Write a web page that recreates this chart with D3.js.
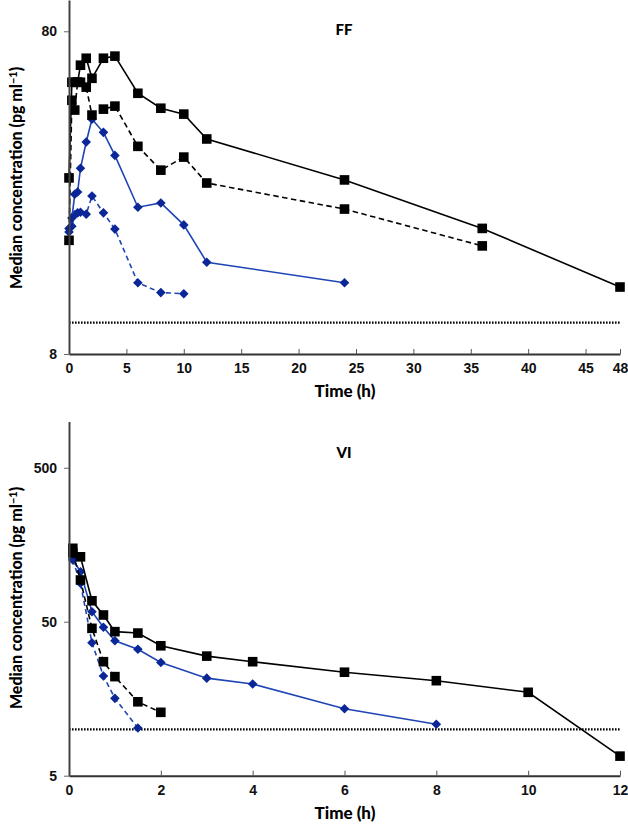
<!DOCTYPE html>
<html><head><meta charset="utf-8">
<script src="https://cdn.jsdelivr.net/npm/d3@7"></script>
<style>
body{margin:0;background:#fff;}
svg{display:block;font-family:Lato,"Open Sans",sans-serif;}
.tick text{font-weight:900;font-size:14px;fill:#111;}
</style></head><body>
<svg id="chart" width="628" height="824"></svg>
<script>
// ---------- FF panel data ----------
const ffTime = [0, 0.25, 0.5, 0.75, 1, 1.5, 2, 3, 4, 6, 8, 10, 12, 24, 36, 48];
const ffBlackSolid = [28.1, 55.6, 55.6, 55.6, 62.8, 66.0, 57.2, 66.0, 67.0, 51.4, 46.2, 44.3, 37.1, 27.7, 19.6, 12.9];
const ffBlackDashed = [18.0, 48.9, 45.6, 55.6, 55.6, 53.7, 44.0, 45.9, 46.9, 35.2, 29.7, 32.6, 27.1, 22.5, 17.3];
const ffBlueSolid = [19.6, 21.1, 25.0, 25.4, 30.1, 36.3, 42.7, 38.9, 33.0, 22.8, 23.5, 20.1, 15.4, 13.3];
const ffBlueDashed = [19.1, 19.9, 21.6, 21.9, 22.0, 21.7, 24.7, 21.9, 19.5, 13.3, 12.4, 12.3];
const ffXTicks = [0, 5, 10, 15, 20, 25, 30, 35, 40, 45, 48];
const ffYTicks = [8, 80];

// ---------- VI panel data ----------
const viTime = [0.083, 0.25, 0.5, 0.75, 1, 1.5, 2, 3, 4, 6, 8, 10, 12];
const viBlackSolid = [149.9, 132, 68.4, 55.3, 43.1, 42.2, 34.9, 29.9, 27.5, 23.5, 20.7, 17.4, 6.7];
const viBlackDashed = [140, 93.3, 45.3, 27.5, 22.0, 15.1, 12.9];
const viBlueSolid = [127.7, 105.6, 58.1, 46.0, 37.6, 33.1, 27.2, 21.5, 19.7, 13.6, 10.8];
const viBlueDashed = [126, 88.8, 36.5, 22.2, 15.9, 10.2];
const viXTicks = [0, 2, 4, 6, 8, 10, 12];
const viYTicks = [5, 50, 500];

const lloq = 10;

const svg = d3.select("#chart");
const BLACK = "#000";
const BLUE_LINE = "#1f45b5";
const BLUE_MARK = "#0b2797";

function panel(opt) {
  const x = d3.scaleLinear().domain(opt.xDomain).range([69, 620]);
  const y = d3.scaleLog().domain(opt.yDomain).range([opt.bottom, opt.top]);
  const g = svg.append("g");

  // LLOQ dotted line
  g.append("line")
    .attr("x1", x(opt.xDomain[0])).attr("x2", x(opt.xDomain[1]))
    .attr("y1", y(lloq)).attr("y2", y(lloq))
    .attr("stroke", "#000").attr("stroke-width", 2.2)
    .attr("stroke-dasharray", "1.6,1.4");

  const series = [
    {t: opt.time, v: opt.blueDashed, line: BLUE_LINE, mark: BLUE_MARK, dash: "5,3.5", shape: "diamond"},
    {t: opt.time, v: opt.blueSolid, line: BLUE_LINE, mark: BLUE_MARK, dash: null, shape: "diamond"},
    {t: opt.time, v: opt.blackDashed, line: BLACK, mark: BLACK, dash: "5.5,3.5", shape: "square"},
    {t: opt.time, v: opt.blackSolid, line: BLACK, mark: BLACK, dash: null, shape: "square"}
  ];
  series.forEach(s => {
    const pts = s.v.map((v, i) => [s.t[i], v]);
    g.append("path").datum(pts)
      .attr("fill", "none").attr("stroke", s.line)
      .attr("stroke-width", 1.6)
      .attr("stroke-dasharray", s.dash)
      .attr("d", d3.line().x(d => x(d[0])).y(d => y(d[1])));
    if (s.shape === "square") {
      g.selectAll(null).data(pts).enter().append("rect")
        .attr("x", d => x(d[0]) - 4.8).attr("y", d => y(d[1]) - 4.8)
        .attr("width", 9.6).attr("height", 9.6).attr("fill", s.mark);
    } else {
      const r = 4.8;
      g.selectAll(null).data(pts).enter().append("path")
        .attr("transform", d => `translate(${x(d[0])},${y(d[1])})`)
        .attr("d", `M0,${-r}L${r},0L0,${r}L${-r},0Z`)
        .attr("fill", s.mark);
    }
  });

  // axes
  const xa = g.append("g").attr("transform", `translate(0,${opt.bottom})`)
    .call(d3.axisBottom(x).tickValues(opt.xTicks).tickFormat(d3.format("d"))
      .tickSizeInner(-5).tickSizeOuter(0).tickPadding(9));
  xa.select(".domain").attr("stroke", "#333").attr("stroke-width", 2);
  xa.selectAll(".tick line").attr("stroke", "#555");

  const ya = g.append("g").attr("transform", `translate(69,0)`)
    .call(d3.axisLeft(y).tickValues(opt.yTicks).tickFormat(d3.format("d"))
      .tickSizeInner(5).tickSizeOuter(0).tickPadding(7));
  ya.select(".domain").attr("stroke", "#444").attr("stroke-width", 2);
  ya.selectAll(".tick line").attr("stroke", "#666");

  // titles
  g.append("text").attr("x", 344).attr("y", opt.titleY)
    .attr("text-anchor", "middle").attr("font-weight", 900)
    .attr("font-size", 15).text(opt.title);
  g.append("text").attr("x", 345).attr("y", opt.bottom + 43)
    .attr("text-anchor", "middle").attr("font-weight", 900)
    .attr("font-size", 17).text("Time (h)");
  const yl = g.append("text")
    .attr("transform", `translate(22,${opt.yLabelY}) rotate(-90)`)
    .attr("text-anchor", "middle").attr("font-weight", 900)
    .attr("font-size", 16);
  yl.append("tspan").text("Median concentration (pg ml");
  yl.append("tspan").attr("dy", -5).attr("font-size", 11).text("\u22121");
  yl.append("tspan").attr("dy", 5).text(")");
}

panel({
  xDomain: [0, 48], yDomain: [8, 100], top: 0, bottom: 354,
  time: ffTime, blackSolid: ffBlackSolid, blackDashed: ffBlackDashed,
  blueSolid: ffBlueSolid, blueDashed: ffBlueDashed,
  xTicks: ffXTicks, yTicks: ffYTicks, title: "FF", titleY: 35, yLabelY: 178
});
panel({
  xDomain: [0, 12], yDomain: [5, 1000], top: 421.4, bottom: 775.7,
  time: viTime, blackSolid: viBlackSolid, blackDashed: viBlackDashed,
  blueSolid: viBlueSolid, blueDashed: viBlueDashed,
  xTicks: viXTicks, yTicks: viYTicks, title: "VI", titleY: 458, yLabelY: 598
});
</script>
</body></html>
